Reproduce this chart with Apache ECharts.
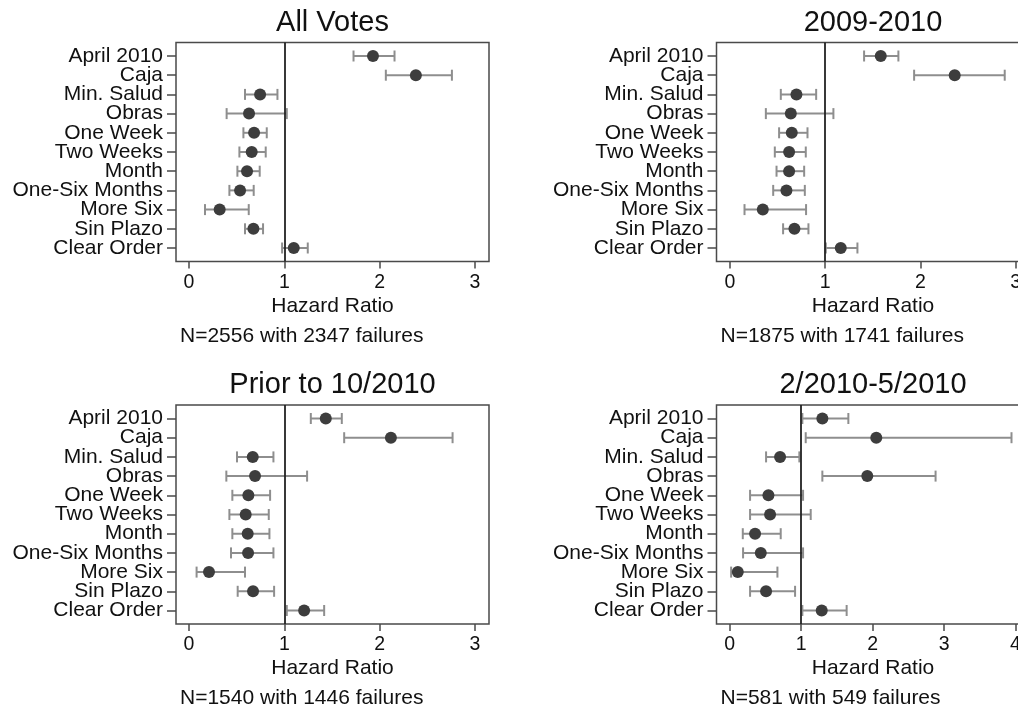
<!DOCTYPE html>
<html>
<head>
<meta charset="utf-8">
<script src="https://cdn.jsdelivr.net/npm/echarts@6/dist/echarts.min.js"></script>
<style>
  html, body { margin: 0; padding: 0; background: #ffffff; }
  #chart { width: 1018px; height: 711px; }
</style>
</head>
<body>
<div id="chart"></div>
<script>
// ---------- DATA ----------
const categories = ['April 2010', 'Caja', 'Min. Salud', 'Obras', 'One Week', 'Two Weeks', 'Month', 'One-Six Months', 'More Six', 'Sin Plazo', 'Clear Order'];
const panelTitles = ['All Votes', '2009-2010', 'Prior to 10/2010', '2/2010-5/2010'];
const panelNotes = ['N=2556 with 2347 failures', 'N=1875 with 1741 failures', 'N=1540 with 1446 failures', 'N=581 with 549 failures'];
const xTicksA = [0, 1, 2, 3];
const xTicksB = [0, 1, 2, 3, 4];
const xAxisTitle = 'Hazard Ratio';

// All Votes
const allVotesHR   = [1.93, 2.38, 0.746, 0.63, 0.683, 0.658, 0.609, 0.536, 0.322, 0.676, 1.099];
const allVotesLow  = [1.726, 2.065, 0.588, 0.395, 0.571, 0.529, 0.508, 0.424, 0.168, 0.588, 0.977];
const allVotesHigh = [2.156, 2.758, 0.928, 1.026, 0.816, 0.805, 0.742, 0.679, 0.627, 0.777, 1.246];

// 2009-2010
const y0910HR   = [1.584, 2.36, 0.699, 0.64, 0.65, 0.622, 0.622, 0.594, 0.346, 0.678, 1.164];
const y0910Low  = [1.409, 1.934, 0.535, 0.378, 0.517, 0.472, 0.49, 0.455, 0.154, 0.559, 1.007];
const y0910High = [1.769, 2.885, 0.906, 1.087, 0.815, 0.797, 0.78, 0.787, 0.80, 0.825, 1.339];

// Prior to 10/2010
const priorHR   = [1.435, 2.118, 0.669, 0.693, 0.623, 0.595, 0.616, 0.62, 0.21, 0.672, 1.208];
const priorLow  = [1.278, 1.628, 0.504, 0.392, 0.455, 0.424, 0.455, 0.441, 0.08, 0.511, 1.026];
const priorHigh = [1.603, 2.765, 0.886, 1.239, 0.851, 0.837, 0.844, 0.886, 0.588, 0.893, 1.418];

// 2/2010-5/2010
const febMayHR   = [1.296, 2.051, 0.704, 1.925, 0.541, 0.564, 0.354, 0.434, 0.112, 0.508, 1.287];
const febMayLow  = [1.016, 1.063, 0.508, 1.296, 0.284, 0.284, 0.182, 0.186, 0.019, 0.284, 1.016];
const febMayHigh = [1.66, 3.944, 0.974, 2.881, 1.026, 1.133, 0.713, 1.026, 0.667, 0.914, 1.636];

const referenceValue = 1;

// ---------- BUILD ----------
const FONT = "'Liberation Sans', Arial, Helvetica, sans-serif";
const panels = [
  { hr: allVotesHR, lo: allVotesLow, hi: allVotesHigh, ticks: xTicksA, min: -0.136, max: 3.147, left: 176, top: 42.5 },
  { hr: y0910HR, lo: y0910Low, hi: y0910High, ticks: xTicksA, min: -0.14, max: 3.145, left: 716.5, top: 42.5 },
  { hr: priorHR, lo: priorLow, hi: priorHigh, ticks: xTicksA, min: -0.136, max: 3.147, left: 176, top: 405 },
  { hr: febMayHR, lo: febMayLow, hi: febMayHigh, ticks: xTicksB, min: -0.186, max: 4.196, left: 716.5, top: 405 }
];
const GW = 313, GH = 219;          // plot box
const ROW = 19.2;                   // spacing of rows
const INSET = (GH - ROW * categories.length) / 2;  // data band inset inside the box

const grid = [], xAxis = [], yAxis = [], series = [], graphic = [];
const AX = '#4a4a4a';

panels.forEach((p, k) => {
  const fi = k * 2;       // frame grid index
  const di = k * 2 + 1;   // data grid index

  // frame grid: box, x axis with ticks/labels/title, reference line
  grid.push({
    left: p.left, top: p.top, width: GW, height: GH,
    outerBoundsMode: 'none', containLabel: false,
    show: true, borderColor: AX, borderWidth: 1.5, backgroundColor: '#ffffff'
  });
  xAxis.push({
    gridIndex: fi, type: 'value', min: p.min, max: p.max, position: 'bottom',
    axisLine: { show: false, onZero: false },
    axisTick: { show: true, length: 7, customValues: p.ticks, lineStyle: { color: AX, width: 1.5 } },
    axisLabel: { customValues: p.ticks, margin: 11, fontSize: 19.5, color: '#111', fontFamily: FONT },
    splitLine: { show: false },
    name: xAxisTitle, nameLocation: 'middle', nameGap: 34,
    nameTextStyle: { fontSize: 21, color: '#111', fontFamily: FONT }
  });
  yAxis.push({
    gridIndex: fi, type: 'value', min: 0, max: 1, show: false,
    axisLine: { onZero: false }, splitLine: { show: false }
  });
  series.push({
    type: 'scatter', xAxisIndex: fi, yAxisIndex: fi, data: [],
    markLine: {
      silent: true, symbol: ['none', 'none'], label: { show: false },
      lineStyle: { color: '#222', width: 1.8, type: 'solid' },
      data: [{ xAxis: referenceValue }]
    },
    z: 1
  });

  // data grid: category rows
  grid.push({
    left: p.left, top: p.top + INSET, width: GW, height: ROW * categories.length,
    outerBoundsMode: 'none', containLabel: false,
    show: false
  });
  xAxis.push({
    gridIndex: di, type: 'value', min: p.min, max: p.max, show: false,
    axisLine: { onZero: false }, splitLine: { show: false }
  });
  yAxis.push({
    gridIndex: di, type: 'category', data: categories, inverse: true, boundaryGap: true,
    position: 'left',
    axisLine: { show: false, onZero: false },
    axisTick: { show: true, length: 9, alignWithLabel: true, interval: 0, lineStyle: { color: AX, width: 1.5 } },
    axisLabel: { interval: 0, margin: 13, fontSize: 21, color: '#111', fontFamily: FONT },
    splitLine: { show: false }
  });
  series.push({
    type: 'custom', xAxisIndex: di, yAxisIndex: di,
    data: p.lo.map((l, i) => [l, p.hi[i], i]),
    encode: { x: [0, 1], y: 2 },
    renderItem: (params, api) => {
      const yv = api.value(2);
      const a = api.coord([api.value(0), yv]);
      const b = api.coord([api.value(1), yv]);
      const h = 5.5;
      const st = { stroke: '#8e8e8e', lineWidth: 2 };
      return {
        type: 'group',
        children: [
          { type: 'line', shape: { x1: a[0], y1: a[1], x2: b[0], y2: b[1] }, style: st },
          { type: 'line', shape: { x1: a[0], y1: a[1] - h, x2: a[0], y2: a[1] + h }, style: st },
          { type: 'line', shape: { x1: b[0], y1: b[1] - h, x2: b[0], y2: b[1] + h }, style: st }
        ]
      };
    },
    z: 2
  });
  series.push({
    type: 'scatter', xAxisIndex: di, yAxisIndex: di,
    data: p.hr.map((v, i) => [v, i]),
    symbol: 'circle', symbolSize: 12,
    itemStyle: { color: '#3d3d3d', opacity: 1 },
    z: 3
  });

  // panel title
  graphic.push({
    type: 'text', x: p.left + GW / 2, y: p.top - 20,
    style: { text: panelTitles[k], font: '29px ' + FONT, fill: '#111', textAlign: 'center', textVerticalAlign: 'middle' }
  });
  // note
  graphic.push({
    type: 'text', x: p.left + 4, y: p.top + GH + 74.5,
    style: { text: panelNotes[k], font: '21px ' + FONT, fill: '#111', textAlign: 'left', textVerticalAlign: 'middle' }
  });
});

const chart = echarts.init(document.getElementById('chart'), null, { renderer: 'canvas' });
chart.setOption({
  backgroundColor: '#ffffff',
  animation: false,
  textStyle: { fontFamily: FONT },
  grid, xAxis, yAxis, series, graphic
});
</script>
</body>
</html>
